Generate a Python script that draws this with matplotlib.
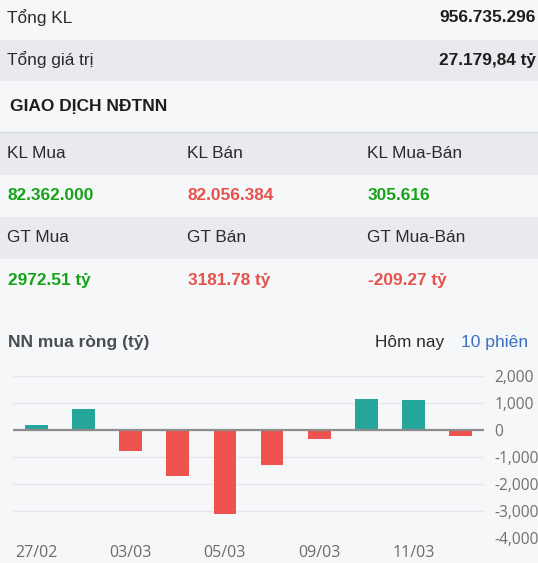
import matplotlib.pyplot as plt
from matplotlib.ticker import FuncFormatter

# summary rows
summary_labels = ["Tổng KL", "Tổng giá trị"]
summary_values = ["956.735.296", "27.179,84 tỷ"]

# foreign trading table
kl_headers = ["KL Mua", "KL Bán", "KL Mua-Bán"]
kl_values = ["82.362.000", "82.056.384", "305.616"]
gt_headers = ["GT Mua", "GT Bán", "GT Mua-Bán"]
gt_values = ["2972.51 tỷ", "3181.78 tỷ", "-209.27 tỷ"]
value_signs = [1, -1, 1]
gt_signs = [1, -1, -1]

# net foreign buying, last 10 sessions (ty dong)
dates = ["27/02", "02/03", "03/03", "04/03", "05/03",
         "06/03", "09/03", "10/03", "11/03", "12/03"]
net_buy = [190, 770, -770, -1683, -3111, -1303, -343, 1133, 1096, -209.27]
y_ticks = [2000, 1000, 0, -1000, -2000, -3000, -4000]

W, H = 538, 563
BG = "#f6f7f9"
BAND = "#e8eaee"
GREEN_TXT = "#17a317"
RED_TXT = "#e5534b"
GREEN_BAR = "#26a69a"
RED_BAR = "#ef5350"
TABLE_FONT = ["Liberation Sans", "DejaVu Sans"]

fig = plt.figure(figsize=(W / 100, H / 100), dpi=100, facecolor=BG)

# background / table layer in pixel coordinates
bg = fig.add_axes([0, 0, 1, 1])
bg.set_xlim(0, W)
bg.set_ylim(H, 0)
bg.axis("off")
bg.set_facecolor(BG)

bg.axhspan(40, 81, color=BAND, lw=0)
bg.axhspan(133, 175, color=BAND, lw=0)
bg.axhspan(217, 259, color=BAND, lw=0)
bg.axhline(132, color="#d5d8dd", lw=1)

for i, (lab, val) in enumerate(zip(summary_labels, summary_values)):
    y = 18 + i * 42
    bg.text(7, y, lab, fontsize=12.4, color="#2b2b2b", va="center",
            family=TABLE_FONT)
    bg.text(536, y, val, fontsize=12.4, color="#1e1e1e", va="center",
            ha="right", fontweight="bold", family=TABLE_FONT)

bg.text(10, 106, "GIAO DỊCH NĐTNN", fontsize=12.5, color="#1e1e1e",
        va="center", fontweight="bold", family=TABLE_FONT)

col_x = [7, 187, 367]
for j in range(3):
    bg.text(col_x[j], 153, kl_headers[j], fontsize=12.4, color="#2b2b2b",
            va="center", family=TABLE_FONT)
    bg.text(col_x[j] + 1, 195, kl_values[j], fontsize=12.4,
            color=GREEN_TXT if value_signs[j] > 0 else RED_TXT,
            va="center", fontweight="bold", family=TABLE_FONT)
    bg.text(col_x[j], 238, gt_headers[j], fontsize=12.4, color="#2b2b2b",
            va="center", family=TABLE_FONT)
    bg.text(col_x[j] + 1, 281, gt_values[j], fontsize=12.4,
            color=GREEN_TXT if gt_signs[j] > 0 else RED_TXT,
            va="center", fontweight="bold", family=TABLE_FONT)

bg.text(8, 343, "NN mua ròng (tỷ)", fontsize=12.5, color="#4a4d52",
        va="center", fontweight="bold", family=TABLE_FONT)
bg.text(375, 342, "Hôm nay", fontsize=12.4, color="#2b2b2b",
        va="center", family=TABLE_FONT)
bg.text(461, 342, "10 phiên", fontsize=12.6, color="#3a6fc4",
        va="center", family=TABLE_FONT)

# bar chart
left, right = 12.7, 484.3
top, bottom = 375.7, 538.3
ax = fig.add_axes([left / W, 1 - bottom / H, (right - left) / W, (bottom - top) / H])
ax.set_facecolor("none")
x = list(range(len(dates)))
colors = [GREEN_BAR if v >= 0 else RED_BAR for v in net_buy]
ax.bar(x, net_buy, width=0.48, color=colors, zorder=3)
ax.axhline(0, color="#8c8c8c", lw=1.6, zorder=4)

ax.set_xlim(-0.5, len(dates) - 0.5)
ax.set_ylim(-4000, 2000)
ax.set_yticks(y_ticks)
ax.yaxis.set_major_formatter(FuncFormatter(lambda v, p: f"{int(v):,}"))
ax.yaxis.tick_right()
ax.grid(axis="y", color="#e4e6e9", lw=1, zorder=0)
ax.set_xticks(x[::2])
ax.set_xticklabels(dates[::2])
ax.tick_params(axis="y", length=0, pad=7.5, labelsize=11.2, labelcolor="#707070")
ax.tick_params(axis="x", length=0, pad=5, labelsize=11.5, labelcolor="#6b6b6b")
for lab in ax.get_yticklabels() + ax.get_xticklabels():
    lab.set_family(["Open Sans", "DejaVu Sans"])
for s in ax.spines.values():
    s.set_visible(False)

fig.savefig("out.png", dpi=100, facecolor=BG)
